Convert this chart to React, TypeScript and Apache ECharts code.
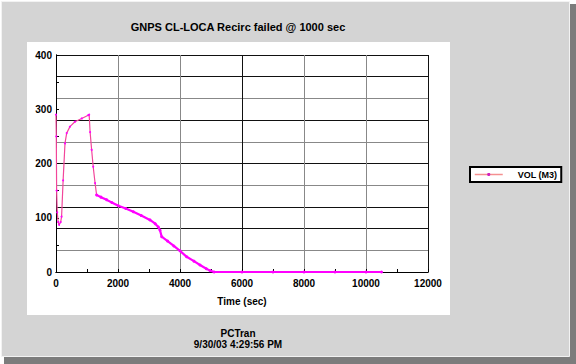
import React, { useEffect, useRef } from "react";
import * as echarts from "echarts";

const titleText = "GNPS CL-LOCA Recirc failed @ 1000 sec";
const seriesName = "VOL (M3)";
const xAxisName = "Time (sec)";
const footerLines = ["PCTran", "9/30/03 4:29:56 PM"];

// early (sparse) portion of the curve
const timeEarly = [0, 10, 20, 40, 70, 100, 150, 180, 230, 290, 345, 450, 610, 830, 1040, 1070, 1100, 1150, 1200, 1260, 1310];
const volEarly = [290, 250, 150, 110, 92, 87, 92, 102, 169, 237, 256, 268, 277, 283, 289, 290, 258, 225, 194, 164, 142];

// later (dense) portion of the curve
const timeLate = [1310, 1450, 1635, 1800, 2010, 2250, 2495, 2750, 3030, 3200, 3300, 3355, 3410, 3600, 3800, 4000, 4215, 4450, 4645, 4850, 4970, 5100, 6000, 7000, 8000, 9000, 10000, 10500];
const volLate = [142, 138, 133, 128, 122, 117, 111, 104, 96, 89, 83, 77, 65, 57, 48, 39, 28, 20, 13, 6, 2.5, 0, 0, 0, 0, 0, 0, 0];

const hGridColors = ["#111", "#888", "#111", "#111", "#888", "#111", "#888", "#111", "#888", "#111", "#111"];
const vGridColors = ["#111", "#888", "#888", "#111", "#888", "#888", "#111"];

const FONT = "'Liberation Sans', Arial, sans-serif";

export default function App() {
  const ref = useRef<HTMLDivElement>(null);
  useEffect(() => {
    const chart = echarts.init(ref.current!, null, { renderer: "svg" });
    const early = timeEarly.map((t, i) => [t, volEarly[i]]);
    const late = timeLate.map((t, i) => [t, volLate[i]]);
    chart.setOption({
      animation: false,
      backgroundColor: "#ffffff",
      textStyle: { fontFamily: FONT },
      graphic: [
        { type: "rect", z: -30, shape: { x: 4, y: 4, width: 572, height: 360 }, style: { fill: "#7c7c7c" }, silent: true },
        { type: "rect", z: -29, shape: { x: 1.5, y: 1.5, width: 568, height: 355 }, style: { fill: "#d4d4d4", stroke: "#f2f2f2", lineWidth: 1 }, silent: true },
        { type: "rect", z: -28, shape: { x: 27, y: 42, width: 423, height: 273 }, style: { fill: "#ffffff" }, silent: true },
        {
          type: "text", z: 10, x: 238, y: 27,
          style: { text: titleText, fill: "#000", font: `bold 11px ${FONT}`, align: "center", verticalAlign: "middle" },
        },
        {
          type: "text", z: 10, x: 238, y: 333,
          style: { text: footerLines[0], fill: "#000", font: `bold 10px ${FONT}`, align: "center", verticalAlign: "middle" },
        },
        {
          type: "text", z: 10, x: 238, y: 344,
          style: { text: footerLines[1], fill: "#000", font: `bold 10px ${FONT}`, align: "center", verticalAlign: "middle" },
        },
      ],
      grid: { left: 56, right: 148, top: 55, bottom: 92, containLabel: false },
      legend: {
        data: [seriesName],
        left: 470,
        top: 167,
        itemWidth: 28,
        itemHeight: 4,
        itemGap: 0,
        padding: [3, 4, 3, 4],
        backgroundColor: "#ffffff",
        borderColor: "#000",
        borderWidth: 2,
        borderRadius: 0,
        lineStyle: { color: "#f49090", width: 1.5 },
        itemStyle: { color: "#d020c0" },
        textStyle: { color: "#000", fontWeight: "bold", fontSize: 9, fontFamily: FONT, padding: [0, 0, 0, 10] },
      },
      xAxis: [
        {
          type: "value", min: 0, max: 12000, interval: 1000,
          axisLine: { show: true, lineStyle: { color: "#000", width: 1 } },
          axisTick: { show: true, inside: true, length: 3, lineStyle: { color: "#000" } },
          axisLabel: {
            color: "#000", fontWeight: "bold", fontSize: 10, fontFamily: FONT, margin: 6,
            formatter: (v: number) => (v % 2000 === 0 ? String(v) : ""),
          },
          splitLine: { show: false },
          name: xAxisName, nameLocation: "middle", nameGap: 24,
          nameTextStyle: { color: "#000", fontWeight: "bold", fontSize: 10, fontFamily: FONT },
        },
        {
          type: "value", min: 0, max: 12000, interval: 2000, position: "top",
          axisLine: { show: true, lineStyle: { color: "#000", width: 1 } },
          axisTick: { show: false }, axisLabel: { show: false },
          splitLine: { show: true, lineStyle: { color: vGridColors, width: 1 } },
        },
      ],
      yAxis: [
        {
          type: "value", min: 0, max: 400, interval: 50,
          axisLine: { show: true, lineStyle: { color: "#000", width: 1 } },
          axisTick: { show: true, inside: true, length: 3, lineStyle: { color: "#000" } },
          axisLabel: {
            color: "#000", fontWeight: "bold", fontSize: 10, fontFamily: FONT, margin: 4,
            formatter: (v: number) => (v % 100 === 0 ? String(v) : ""),
          },
          splitLine: { show: false },
        },
        {
          type: "value", min: 0, max: 400, interval: 40, position: "right",
          axisLine: { show: true, lineStyle: { color: "#000", width: 1 } },
          axisTick: { show: false }, axisLabel: { show: false },
          splitLine: { show: true, lineStyle: { color: hGridColors, width: 1 } },
        },
      ],
      series: [
        {
          name: seriesName, type: "line", xAxisIndex: 0, yAxisIndex: 0, data: early,
          symbol: "circle", symbolSize: 2, showSymbol: true,
          lineStyle: { color: "#f2469a", width: 1.2 },
          itemStyle: { color: "#ff00ff" },
          z: 5,
        },
        {
          name: seriesName, type: "line", xAxisIndex: 0, yAxisIndex: 0, data: late,
          symbol: "circle", symbolSize: 3, showSymbol: true,
          lineStyle: { color: "#ff00ff", width: 2.2 },
          itemStyle: { color: "#ff00ff" },
          z: 5,
        },
      ],
    });
    return () => chart.dispose();
  }, []);
  return <div ref={ref} style={{ position: "fixed", left: 0, top: 0, width: 576, height: 364 }} />;
}
